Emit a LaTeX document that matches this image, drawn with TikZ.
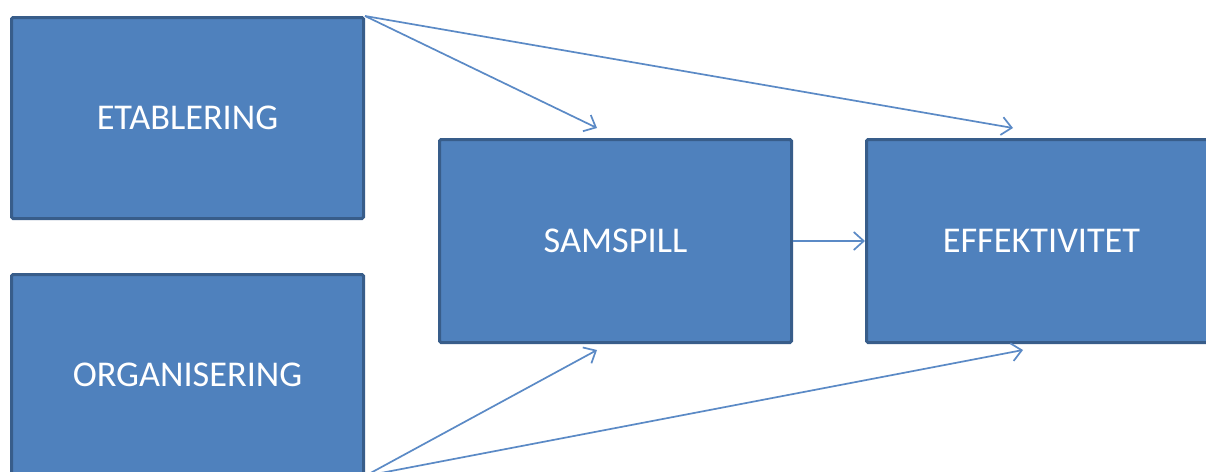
\documentclass[tikz,border=0pt]{standalone}
\usepackage{fontspec}
\setmainfont{Carlito}
\usetikzlibrary{arrows.meta}
\definecolor{boxfill}{HTML}{4F81BD}
\definecolor{boxline}{HTML}{385D8A}
\definecolor{arrowc}{HTML}{5B8AC6}
\begin{document}
\begin{tikzpicture}[x=1pt,y=-1pt,
  box/.style={draw=boxline,fill=boxfill,line width=3pt,rounded corners=1.5pt,
    text=white,font=\fontsize{36.3}{42}\selectfont,inner sep=0pt,anchor=north west},
  conn/.style={draw=arrowc,line width=1.7pt,-{Straight Barb[length=10pt,width=18pt,line width=1.7pt]}}]
\clip (0,0) rectangle (1206,471);
\fill[white] (0,0) rectangle (1206,471);
\node[box,minimum width=352pt,minimum height=201pt] (etab) at (10,16) {ETABLERING};
\node[box,minimum width=352pt,minimum height=200pt] (org) at (10,273) {ORGANISERING};
\node[box,minimum width=352pt,minimum height=203pt] (sam) at (438,138) {SAMSPILL};
\node[box,minimum width=350pt,minimum height=203pt] (eff) at (865,138) {EFFEKTIVITET};
\coordinate (e1) at (597,128);
\coordinate (e2) at (1013,128);
\coordinate (o1) at (597,350);
\coordinate (o2) at (1023,350);
\draw[conn] (etab.north east) -- (e1);
\draw[conn] (etab.north east) -- (e2);
\draw[conn] (org.south east) -- (o1);
\draw[conn] (org.south east) -- (o2);
\draw[conn] (sam.east) -- (eff.west);
\end{tikzpicture}
\end{document}
